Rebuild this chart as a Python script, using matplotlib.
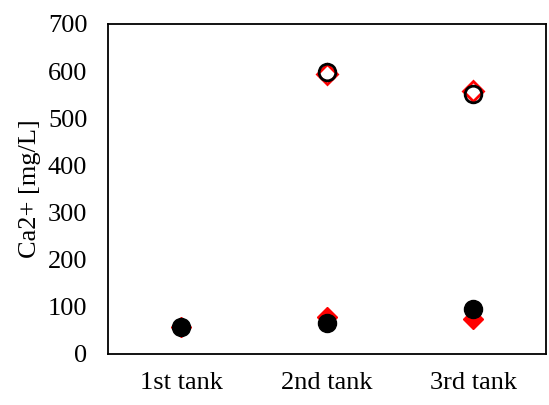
import matplotlib
matplotlib.use("Agg")
import matplotlib.pyplot as plt

tanks = ["1st tank", "2nd tank", "3rd tank"]
# low series (filled markers)
red_low = [58, 79, 75]
black_low = [58, 65, 95]
# high series (open markers), only 2nd and 3rd tank
high_tanks = ["2nd tank", "3rd tank"]
red_high = [594, 558]
black_high = [598, 552]

plt.rcParams["font.family"] = ["Liberation Serif", "DejaVu Serif"]
plt.rcParams["font.size"] = 19

fig = plt.figure(figsize=(5.49, 4.05), dpi=100)
ax = fig.add_axes([0.197, 0.126, 0.7975, 0.815])

x = list(range(len(tanks)))
xh = [tanks.index(t) for t in high_tanks]

ax.plot(x, red_low, linestyle="none", marker="D", markersize=10,
        color="red", zorder=3)
ax.plot(x, black_low, linestyle="none", marker="o", markersize=13,
        color="black", zorder=4)
ax.plot(xh, red_high, linestyle="none", marker="D", markersize=10,
        markerfacecolor="none", markeredgecolor="red", markeredgewidth=2,
        zorder=3)
ax.plot(xh, black_high, linestyle="none", marker="o", markersize=12,
        markerfacecolor="none", markeredgecolor="black", markeredgewidth=2,
        zorder=4)

ax.set_xlim(-0.5, 2.5)
ax.set_ylim(0, 700)
ax.set_xticks(x)
ax.set_xticklabels(tanks)
ax.set_yticks(range(0, 701, 100))
ax.tick_params(axis="both", length=0)
ax.tick_params(axis="y", pad=15)
ax.tick_params(axis="x", pad=13)
for s in ax.spines.values():
    s.set_linewidth(1.3)
ax.set_ylabel("Ca2+ [mg/L]", labelpad=5)

fig.savefig("out.png", dpi=100)
